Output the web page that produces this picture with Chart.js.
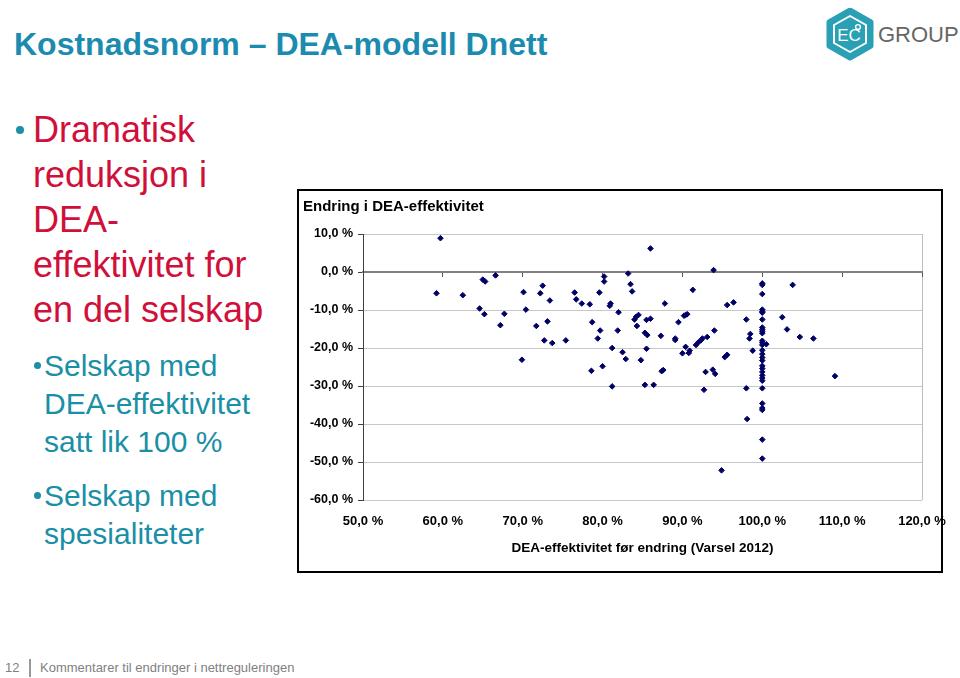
<!DOCTYPE html>
<html>
<head>
<meta charset="utf-8">
<script src="https://cdn.jsdelivr.net/npm/chart.js@4.4.1/dist/chart.umd.min.js"></script>
<style>
  body{margin:0;width:960px;height:678px;position:relative;background:#fff;overflow:hidden;font-family:'Liberation Sans',Arial,sans-serif}
  .title{position:absolute;left:14px;top:24px;font-size:32px;line-height:40px;font-weight:bold;color:#1b8bb0;white-space:nowrap}
  .b1{position:absolute;left:33px;top:107px;font-size:36px;line-height:45px;color:#d0103a}
  .b2{position:absolute;left:44px;font-size:30px;line-height:38px;color:#1a8fa6}
  .dot{position:absolute;border-radius:50%;background:#1a8fa6}
  .box{position:absolute;left:297px;top:189px;width:642px;height:380px;border:2px solid #000}
  #chartCanvas{position:absolute;left:299px;top:191px}
  .foot{position:absolute;top:659px;font-size:13px;line-height:18px;color:#7f7f7f;white-space:nowrap}
  .bar{position:absolute;left:29px;top:659px;width:2px;height:18px;background:#9a9a9a}
</style>
</head>
<body>
<div class="title">Kostnadsnorm – DEA-modell Dnett</div>

<svg style="position:absolute;left:824px;top:8px" width="136" height="54">
  <path d="M26 2 L47 14 L47 38 L26 50 L5 38 L5 14 Z" fill="#2aa0b4" stroke="#2aa0b4" stroke-width="5" stroke-linejoin="round"/>
  <path d="M26 8 L42 17 L42 35 L26 44 L10 35 L10 17 Z" fill="none" stroke="#fff" stroke-width="2" stroke-linejoin="round"/>
  <text x="25" y="33" text-anchor="middle" font-size="17" fill="#fff" font-family="Liberation Sans">EC</text>
  <circle cx="34" cy="19" r="2.4" fill="none" stroke="#fff" stroke-width="1.4"/>
  <text x="54" y="34" font-size="22" fill="#666" font-family="Liberation Sans">GROUP</text>
</svg>

<div class="dot" style="left:16px;top:126px;width:8px;height:8px"></div>
<div class="b1">Dramatisk<br>reduksjon i<br>DEA-<br>effektivitet for<br>en del selskap</div>

<div class="dot" style="left:34px;top:362px;width:7px;height:7px"></div>
<div class="b2" style="top:347px">Selskap med<br>DEA-effektivitet<br>satt lik 100 %</div>
<div class="dot" style="left:34px;top:492px;width:7px;height:7px"></div>
<div class="b2" style="top:477px">Selskap med<br>spesialiteter</div>

<div class="box"></div>
<canvas id="chartCanvas" width="660" height="380"></canvas>

<div class="foot" style="left:5px">12</div>
<div class="bar"></div>
<div class="foot" style="left:40px">Kommentarer til endringer i nettreguleringen</div>

<script>
// DEA-effektivitet før endring (x, %) og endring i DEA-effektivitet (y, %-poeng)
const effBefore = [
  59.7, 59.2, 62.5, 65.0, 65.3, 66.6, 64.6, 65.2, 67.7, 67.2,
  70.1, 70.4, 72.5, 72.2, 73.4, 71.7, 73.1, 72.7, 73.7, 69.9,
  75.4, 76.5, 76.7, 77.4, 78.4, 78.7, 79.7, 79.4, 78.6, 80.0,
  79.6, 80.2, 80.2, 81.0, 80.9, 82.0, 81.9, 81.2, 82.5, 82.9,
  83.2, 83.5, 83.7, 84.0, 84.2, 84.5, 84.3, 86.0, 85.5, 86.0,
  85.3, 85.6, 85.5, 84.8, 87.8, 87.3, 87.4, 87.6, 89.1, 89.1,
  89.5, 90.2, 90.4, 90.6, 91.3, 90.0, 90.4, 90.9, 90.8, 91.7,
  92.0, 92.3, 92.5, 93.1, 94.0, 93.9, 95.6, 96.4, 95.3, 95.6,
  92.9, 93.8, 94.1, 98.0, 98.5, 98.4, 81.2, 85.3, 86.4, 92.7,
  98.0, 98.1, 94.9, 103.8, 102.5, 103.1, 104.7, 106.4, 98.8, 100.5,
  109.1,
  100, 100, 100, 100, 100, 100, 100, 100, 100, 100,
  100, 100, 100, 100, 100, 100, 100, 100, 100, 100,
  100, 100, 100, 100, 100, 100, 100, 100, 100, 100
]
const effChange = [
  8.9, -5.6, -6.1, -2.0, -2.5, -0.9, -9.6, -11.1, -11.0, -14.0,
  -5.3, -9.9, -3.6, -5.6, -7.5, -14.2, -13.0, -18.0, -18.7, -23.1,
  -18.0, -5.4, -7.2, -8.3, -8.5, -13.2, -15.4, -17.5, -26.0, -24.8,
  -5.4, -1.2, -2.5, -8.3, -8.9, -10.6, -15.4, -20.0, -21.1, -22.9,
  -0.4, -3.2, -5.1, -12.5, -11.8, -11.3, -14.2, 6.2, -12.6, -12.3,
  -16.0, -16.6, -20.2, -23.2, -8.3, -16.8, -26.1, -25.8, -17.5, -17.9,
  -13.2, -11.5, -11.3, -11.1, -4.7, -21.4, -19.7, -20.7, -21.3, -19.2,
  -18.5, -18.0, -17.5, -17.1, -15.4, 0.5, -8.7, -8.0, -22.4, -21.8,
  -26.3, -25.7, -26.8, -12.5, -16.3, -17.5, -30.1, -29.7, -29.7, -31.0,
  -30.6, -38.7, -52.2, -3.4, -11.9, -15.1, -17.1, -17.5, -20.7, -19.0,
  -27.4,
  -3.0, -3.4, -5.8, -9.9, -10.4, -10.7, -12.5, -14.6, -15.1, -15.6,
  -16.1, -18.1, -18.6, -19.2, -20.6, -21.6, -22.5, -23.3, -24.7, -25.4,
  -26.3, -27.2, -27.9, -28.6, -30.6, -34.6, -35.8, -36.3, -44.1, -49.1
]
const xRange = [50, 120]
const yRange = [-60, 10]

const F = "'Liberation Sans', Arial, sans-serif"
const pct = v => Number(v).toFixed(1).replace('.', ',') + ' %'
const points = effBefore.map((x, i) => ({x, y: effChange[i]}))

const ctx = document.getElementById('chartCanvas').getContext('2d')
new Chart(ctx, {
  type: 'scatter',
  data: {
    datasets: [{
      data: points, pointStyle: 'rectRot', radius: 2.8, hoverRadius: 2.8,
      backgroundColor: '#000066', borderColor: '#000066', borderWidth: 1
    }]
  },
  options: {
    responsive: false, animation: false,
    layout: {padding: {left: 4, right: 37, top: 0, bottom: 0}},
    plugins: {
      legend: {display: false}, tooltip: {enabled: false},
      title: {display: true, text: 'Endring i DEA-effektivitet', align: 'start', color: '#000',
        font: {family: F, size: 15, weight: 'bold'}, padding: {top: 7, bottom: 18}}
    },
    scales: {
      x: {
        type: 'linear', position: 'bottom', min: xRange[0], max: xRange[1],
        ticks: {stepSize: 10, callback: pct, color: '#000', font: {family: F, size: 13, weight: 'bold'}, padding: 14, maxRotation: 0, autoSkip: false},
        grid: {drawTicks: false, color: c => (c.tick && c.tick.value === xRange[1]) ? '#bdbdbd' : 'transparent'},
        border: {display: false},
        title: {display: true, text: 'DEA-effektivitet før endring (Varsel 2012)', color: '#000',
          font: {family: F, size: 13.5, weight: 'bold'}, padding: {top: 4, bottom: 15}},
        afterFit: s => { s.height = 71; s.paddingLeft = 0; s.paddingRight = 0 }
      },
      x0: {
        type: 'linear', position: {y: 0}, min: xRange[0], max: xRange[1],
        ticks: {display: false, stepSize: 10},
        grid: {drawOnChartArea: false, drawTicks: true, tickLength: 4, tickColor: '#555'},
        border: {color: '#808080', width: 2}
      },
      y: {
        type: 'linear', min: yRange[0], max: yRange[1],
        ticks: {stepSize: 10, callback: pct, color: '#000', font: {family: F, size: 12.5, weight: 'bold'}, padding: 5},
        grid: {color: '#c8c8c8', tickColor: '#404040', tickLength: 5},
        border: {color: '#404040', width: 1},
        afterFit: s => { s.width = 60 }
      }
    }
  }
})
</script>
</body>
</html>
